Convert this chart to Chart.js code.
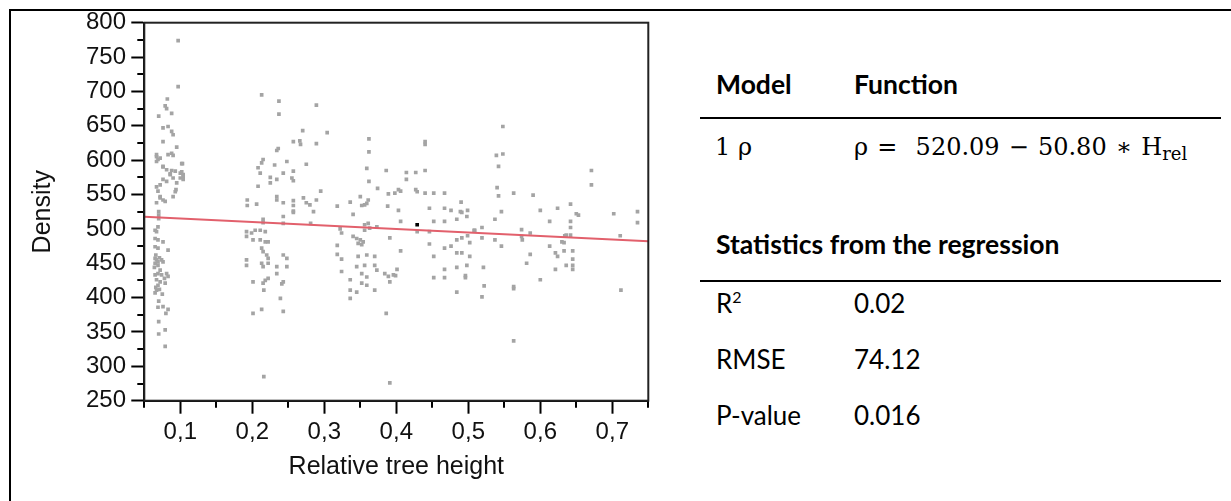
<!DOCTYPE html>
<html>
<head>
<meta charset="utf-8">
<script src="https://cdn.jsdelivr.net/npm/chart.js@4/dist/chart.umd.min.js"></script>
<style>
body { margin:0; width:1231px; height:501px; background:#fff; position:relative; overflow:hidden; font-family:Lato, "Noto Sans", sans-serif; }
#frame { position:absolute; left:9px; top:9px; width:1240px; height:520px; border-left:2px solid #000; border-top:2px solid #000; }
#plot { position:absolute; left:0; top:0; }
.t { position:absolute; font-size:26px; line-height:26px; color:#000; white-space:nowrap; }
.b { font-weight:bold; font-size:26.5px; }
.math { font-family:"DejaVu Serif", serif; font-size:24px; line-height:24px; }
.eq { word-spacing:1.5px; }
.math sub { font-size:18px; vertical-align:-5px; line-height:0; }
.t sup { font-size:16px; vertical-align:10px; line-height:0; }
.rule { position:absolute; left:700px; width:521px; height:2px; background:#000; }
</style>
</head>
<body>
<div id="frame"></div>
<canvas id="plot" width="680" height="501"></canvas>

<div class="t b" style="left:716px; top:71px;">Model</div>
<div class="t b" style="left:854px; top:71px;">Function</div>
<div class="rule" style="top:117px;"></div>
<div class="t math" style="left:715px; top:135px;">1 ρ</div>
<div class="t math eq" style="left:854px; top:135px;">ρ = &nbsp;520.09 − 50.80 ∗ H<sub>rel</sub></div>

<div class="t b" style="left:716px; top:231px;">Statistics from the regression</div>
<div class="rule" style="top:280px;"></div>
<div class="t" style="left:716px; top:290px;">R<sup>2</sup></div>
<div class="t" style="left:854px; top:290px;">0.02</div>
<div class="t" style="left:716px; top:346px;">RMSE</div>
<div class="t" style="left:854px; top:346px;">74.12</div>
<div class="t" style="left:716px; top:402px;">P-value</div>
<div class="t" style="left:854px; top:402px;">0.016</div>

<script>
var relHeight = [
  // ~0.07-0.10
  0.097,0.097,0.082,0.079,0.081,0.088,0.070,0.076,0.083,0.088,0.090,0.076,0.095,0.088,0.083,0.090,0.067,0.069,0.072,0.067,0.103,
  0.076,0.081,0.088,0.093,0.102,0.104,0.100,0.104,0.086,0.090,0.076,0.081,0.072,0.095,0.094,0.090,0.069,0.072,0.076,0.067,0.079,
  0.067,0.076,0.086,0.100,0.102,0.067,0.072,0.093,0.104,
  0.070,0.070,0.070,0.069,0.065,0.067,0.065,0.069,0.076,0.065,0.069,0.083,0.065,0.067,0.069,0.074,0.065,0.069,0.076,
  0.065,0.069,0.074,0.081,0.083,0.067,0.072,0.079,0.069,0.067,0.065,0.070,0.069,0.076,0.083,0.080,0.070,0.079,0.070,0.079,
  0.066,0.071,0.064,0.072,0.078,0.066,0.071,0.075,
  // ~0.19-0.30
  0.213,0.237,0.237,0.289,0.270,0.304,0.257,0.266,0.267,0.289,0.236,0.234,0.215,0.213,0.208,0.211,0.231,0.248,0.275,0.243,
  0.257,0.255,0.257,0.225,0.234,0.225,0.208,0.295,0.234,0.234,0.243,0.193,0.193,0.206,0.257,0.257,0.257,0.271,0.275,0.280,
  0.289,0.285,0.318,0.336,
  0.215,0.215,0.243,0.243,0.257,0.281,0.340,0.192,0.192,0.199,0.204,0.211,0.218,0.201,0.211,0.218,0.222,0.213,0.215,0.220,
  0.222,0.213,0.222,0.215,0.192,0.192,0.243,0.248,0.248,0.234,0.234,0.222,0.218,0.215,0.201,0.243,0.241,0.216,0.239,0.213,
  0.201,0.243,0.216,
  // ~0.32-0.40
  0.362,0.362,0.359,0.362,0.386,0.374,0.389,0.350,0.361,0.359,0.356,0.352,0.388,0.398,
  0.322,0.324,0.318,0.318,0.324,0.324,0.336,0.336,0.336,0.345,0.340,0.345,0.350,0.354,0.347,0.352,0.347,0.359,0.370,0.345,
  0.356,0.370,0.373,0.352,0.359,0.352,0.359,0.370,0.356,0.361,0.363,0.356,0.373,0.391,0.384,0.389,0.391,0.396,0.386,0.391,
  // ~0.40-0.75
  0.548,0.440,0.440,0.539,0.548,0.542,0.414,0.427,0.440,0.414,0.403,0.406,0.427,0.429,0.440,0.452,0.467,0.540,0.542,0.563,
  0.590,0.490,0.403,0.446,0.467,0.476,0.489,0.499,0.546,0.600,0.624,0.642,0.650,0.671,0.671,0.702,0.735,
  0.735,0.711,0.653,0.642,0.642,0.642,0.636,0.630,0.613,0.574,0.586,0.574,0.537,0.519,0.509,
  0.406,0.452,0.467,0.484,0.491,0.498,0.429,0.446,0.446,0.452,0.406,0.467,0.476,0.484,0.491,0.499,0.508,0.519,0.502,0.484,
  0.491,0.502,0.537,0.546,0.575,0.586,0.581,0.613,0.621,0.624,0.633,0.634,0.633,0.645,0.645,0.636,0.645,0.645,0.621,0.600,
  0.712,0.401,0.399,0.452,0.467,0.467,0.484,0.498,0.496,0.496,0.484,0.521,0.522,0.519,0.563,0.563,0.563
];
var density = [
  774,707,689,679,675,668,664,647,649,642,637,627,619,610,608,607,608,601,603,598,595,
  591,586,585,584,583,579,574,572,579,574,572,569,564,567,557,547,555,545,542,538,540,
  605,590,580,581,595,561,547,554,576,
  525,520,515,503,498,496,486,484,481,474,472,469,457,455,452,455,450,447,452,
  433,435,433,435,431,426,423,421,418,411,407,395,386,387,383,377,365,353,347,329,
  462,458,444,440,428,415,412,405,
  695,686,667,680,643,640,627,628,623,624,617,614,601,596,589,581,593,598,594,581,
  584,574,570,575,572,567,562,555,547,542,538,542,534,536,541,534,526,545,538,535,
  542,525,533,539,
  514,509,518,508,524,508,521,496,489,494,498,498,496,484,484,481,481,472,467,462,
  457,450,450,445,455,447,462,457,445,445,435,428,425,421,423,423,420,411,399,383,
  377,380,285,
  631,612,588,569,585,559,551,547,542,537,535,534,533,552,
  500,494,476,463,456,438,426,411,399,408,489,486,484,481,479,477,460,462,460,445,
  447,447,440,435,430,421,418,411,506,508,501,498,503,487,435,431,423,433,377,276,
  649,627,623,607,609,591,582,582,585,572,557,555,557,554,552,552,552,560,548,552,
  549,539,527,530,530,527,525,527,525,527,530,536,522,585,564,522,525,
  509,490,520,511,502,491,491,481,511,499,494,489,514,502,498,
  511,511,511,514,524,518,496,496,478,460,468,472,475,484,487,490,498,487,480,465,
  465,460,484,475,484,463,450,475,465,460,480,490,468,468,456,447,447,441,441,426,
  411,441,432,429,429,441,444,447,432,429,408,444,417,401,416,413,337
];
// highlighted point
var markX = [0.429];
var markY = [506];
// fitted line end points
var fitX = [0.05, 0.75];
var fitY = [517.5, 482.0];

function pairs(xs, ys) {
  var out = [];
  for (var i = 0; i < xs.length; i++) {
    out.push({x: xs[i], y: ys[i]});
  }
  return out;
}

// short ticks between the labelled ones + frame round the plot
var minorTicks = {
  id: 'minorTicks',
  afterDraw: function (chart) {
    var ctx = chart.ctx;
    var a = chart.chartArea;
    var xs = chart.scales.x;
    var ys = chart.scales.y;
    ctx.save();
    ctx.strokeStyle = '#000';
    ctx.lineWidth = 2;
    ctx.beginPath();
    ys.ticks.forEach(function (t) {
      if (Math.round(t.value) % 50 !== 0) {
        var p = Math.round(ys.getPixelForValue(t.value));
        ctx.moveTo(a.left - 7, p);
        ctx.lineTo(a.left, p);
      }
    });
    xs.ticks.forEach(function (t) {
      if (Math.round(t.value * 100) % 10 !== 0) {
        var p = Math.round(xs.getPixelForValue(t.value));
        ctx.moveTo(p, a.bottom);
        ctx.lineTo(p, a.bottom + 7);
      }
    });
    ctx.stroke();
    ctx.strokeStyle = '#222';
    ctx.strokeRect(a.left, a.top, a.right - a.left, a.bottom - a.top);
    ctx.restore();
  }
};

Chart.defaults.font.family = '"Liberation Sans", Arial, sans-serif';
Chart.defaults.color = '#111';

var myScatter = new Chart(document.getElementById('plot').getContext('2d'), {
  type: 'scatter',
  data: {
    datasets: [
      {
        type: 'line',
        data: pairs(fitX, fitY),
        borderColor: '#e2606c',
        borderWidth: 2,
        pointRadius: 0,
        order: 0
      },
      {
        data: pairs(markX, markY),
        pointStyle: 'rect',
        pointRadius: 2.6,
        backgroundColor: '#000',
        borderWidth: 0,
        order: 1
      },
      {
        data: pairs(relHeight, density),
        pointStyle: 'rect',
        pointRadius: 2.6,
        backgroundColor: '#a4a4a4',
        borderWidth: 0,
        order: 2
      }
    ]
  },
  options: {
    responsive: false,
    animation: false,
    layout: { padding: { left: 28.3, right: 31.7, top: 22.7, bottom: 18.7 } },
    plugins: {
      legend: { display: false },
      tooltip: { enabled: false }
    },
    scales: {
      x: {
        type: 'linear',
        min: 0.05,
        max: 0.75,
        afterFit: function (s) { s.height = 81.6; },
        ticks: {
          stepSize: 0.05,
          autoSkip: false,
          maxRotation: 0,
          padding: 4,
          font: { size: 24 },
          callback: function (v) {
            var k = Math.round(v * 100);
            return k % 10 === 0 ? (k / 100).toFixed(1).replace('.', ',') : '';
          }
        },
        grid: {
          drawOnChartArea: false,
          tickLength: 13,
          tickWidth: 2,
          tickColor: function (c) {
            return c.tick && Math.round(c.tick.value * 100) % 10 === 0 ? '#000' : 'rgba(0,0,0,0)';
          }
        },
        border: { color: '#000', width: 2 },
        title: { display: true, text: 'Relative tree height', font: { size: 25 }, padding: 0 }
      },
      y: {
        min: 250,
        max: 800,
        afterFit: function (s) { s.width = 116; },
        ticks: {
          stepSize: 25,
          autoSkip: false,
          padding: 5.3,
          font: { size: 24 },
          callback: function (v) { return v % 50 === 0 ? v : ''; }
        },
        grid: {
          drawOnChartArea: false,
          tickLength: 13,
          tickWidth: 2,
          tickColor: function (c) {
            return c.tick && Math.round(c.tick.value) % 50 === 0 ? '#000' : 'rgba(0,0,0,0)';
          }
        },
        border: { color: '#000', width: 2 },
        title: { display: true, text: 'Density', font: { size: 25 }, padding: 0 }
      }
    }
  },
  plugins: [minorTicks]
});
</script>
</body>
</html>
